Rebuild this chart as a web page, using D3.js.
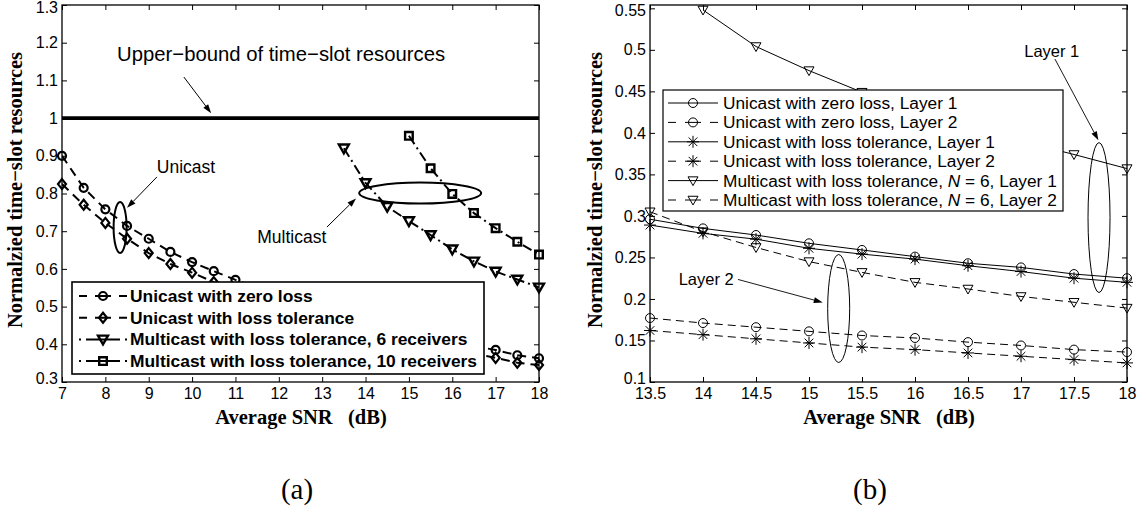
<!DOCTYPE html>
<html><head><meta charset="utf-8">
<script src="https://cdn.jsdelivr.net/npm/d3@7"></script>
<style>body{margin:0;background:#fff}svg{display:block}</style>
</head><body>
<svg id="c" width="1143" height="512"></svg>
<script>
// ---------- Data: panel (a) ----------
const snrA = [7,7.5,8,8.5,9,9.5,10,10.5,11,11.5,12,12.5,13,13.5,14,14.5,15,15.5,16,16.5,17,17.5,18];
const uniZeroA = [0.900,0.815,0.758,0.714,0.680,0.645,0.618,0.594,0.571,0.550,0.530,0.511,0.493,0.476,0.460,0.445,0.431,0.418,0.406,0.395,0.385,0.371,0.363];
const uniTolA  = [0.825,0.770,0.722,0.680,0.642,0.613,0.590,0.565,0.545,0.525,0.506,0.488,0.471,0.455,0.440,0.426,0.413,0.400,0.388,0.376,0.364,0.351,0.345];
const snrMulti6 = [13.5,14,14.5,15,15.5,16,16.5,17,17.5,18];
const multi6A = [0.920,0.828,0.765,0.727,0.690,0.652,0.620,0.593,0.572,0.551];
const snrMulti10 = [15,15.5,16,16.5,17,17.5,18];
const multi10A = [0.953,0.867,0.799,0.748,0.708,0.672,0.638];
const upperBound = 1;
const xTicksA = [7,8,9,10,11,12,13,14,15,16,17,18];
const xLabelsA = ["7","8","9","10","11","12","13","14","15","16","17","18"];
const yTicksA = [0.3,0.4,0.5,0.6,0.7,0.8,0.9,1.0,1.1,1.2,1.3];
const yLabelsA = ["0.3","0.4","0.5","0.6","0.7","0.8","0.9","1","1.1","1.2","1.3"];
const legendA = ["Unicast with zero loss","Unicast with loss tolerance","Multicast with loss tolerance, 6 receivers","Multicast with loss tolerance, 10 receivers"];

// ---------- Data: panel (b) ----------
const snrB = [13.5,14,14.5,15,15.5,16,16.5,17,17.5,18];
const uniZeroL1 = [0.296,0.285,0.277,0.267,0.259,0.251,0.243,0.238,0.230,0.225];
const uniZeroL2 = [0.177,0.171,0.166,0.161,0.156,0.153,0.148,0.144,0.139,0.136];
const uniTolL1  = [0.289,0.279,0.272,0.261,0.254,0.248,0.240,0.233,0.225,0.220];
const uniTolL2  = [0.162,0.157,0.152,0.147,0.142,0.139,0.135,0.131,0.127,0.123];
const multiL1   = [null,0.548,0.504,0.475,0.449,0.428,0.408,0.390,0.374,0.357];
const multiL2   = [0.305,0.281,0.262,0.245,0.232,0.220,0.212,0.203,0.196,0.189];
const xTicksB = [13.5,14,14.5,15,15.5,16,16.5,17,17.5,18];
const xLabelsB = ["13.5","14","14.5","15","15.5","16","16.5","17","17.5","18"];
const yTicksB = [0.1,0.15,0.2,0.25,0.3,0.35,0.4,0.45,0.5,0.55];
const yLabelsB = ["0.1","0.15","0.2","0.25","0.3","0.35","0.4","0.45","0.5","0.55"];
const legendB = ["Unicast with zero loss, Layer 1","Unicast with zero loss, Layer 2","Unicast with loss tolerance, Layer 1","Unicast with loss tolerance, Layer 2","Multicast with loss tolerance, |N| = 6, Layer 1","Multicast with loss tolerance, |N| = 6, Layer 2"];

const yLabelText = "Normalzied time−slot resources";
const xLabelText = "Average SNR   (dB)";

// ---------- Setup ----------
const svg = d3.select("#c");
const SANS = "'Liberation Sans', Arial, sans-serif";
const SERIF = "'Liberation Serif', 'Times New Roman', serif";

const xA = d3.scaleLinear().domain([7,18]).range([62,539]);
const yA = d3.scaleLinear().domain([0.3,1.3]).range([382,5]);
const xB = d3.scaleLinear().domain([13.5,18]).range([650,1127]);
const yB = d3.scaleLinear().domain([0.1,0.554]).range([382,5]);

function markerPath(type, s){
  switch(type){
    case "circle": return `M${-s},0a${s},${s} 0 1,0 ${2*s},0a${s},${s} 0 1,0 ${-2*s},0Z`;
    case "diamond": return `M0,${-s*1.25}L${s},0L0,${s*1.25}L${-s},0Z`;
    case "tri": return `M${-s},${-s*0.75}L${s},${-s*0.75}L0,${s}Z`;
    case "square": return `M${-s},${-s}H${s}V${s}H${-s}Z`;
    case "star": { const d=s*0.72; return `M${-s},0H${s}M0,${-s}V${s}M${-d},${-d}L${d},${d}M${-d},${d}L${d},${-d}`; }
  }
}

function drawAxes(g, x, y, xt, xl, yt, yl){
  const [y0,y1] = y.range(), [x0,x1] = x.range();
  const ax = [
    g.append("g").attr("transform",`translate(0,${y0})`).call(d3.axisBottom(x).tickValues(xt).tickFormat((d,i)=>xl[i]).tickSize(-5).tickPadding(6)),
    g.append("g").attr("transform",`translate(0,${y1})`).call(d3.axisTop(x).tickValues(xt).tickFormat("").tickSize(-5)),
    g.append("g").attr("transform",`translate(${x0},0)`).call(d3.axisLeft(y).tickValues(yt).tickFormat((d,i)=>yl[i]).tickSize(-5).tickPadding(4)),
    g.append("g").attr("transform",`translate(${x1},0)`).call(d3.axisRight(y).tickValues(yt).tickFormat("").tickSize(-5))
  ];
  ax.forEach(a=>{ a.select(".domain").remove(); a.attr("font-family",SANS).attr("font-size",16); a.selectAll("line").attr("stroke","#000").attr("stroke-width",1); a.selectAll("text").attr("fill","#000"); });
  // MATLAB-style: lowest y label sits slightly raised, clear of the first x label
  ax[2].selectAll(".tick").filter((d,i)=>i===0).select("text").attr("dy","0.1em");
  ax[2].selectAll(".tick").filter((d,i)=>i===yt.length-1).select("text").attr("dy","0.45em");
  g.append("rect").attr("x",x0).attr("y",y1).attr("width",x1-x0).attr("height",y0-y1).attr("fill","none").attr("stroke","#000").attr("stroke-width",1.3);
}

function drawSeries(g, x, y, xs, vals, st, clipId){
  const pts = xs.map((d,i)=>[d, vals[i]]).filter(p=>p[1]!=null);
  const line = d3.line().x(p=>x(p[0])).y(p=>y(p[1]));
  const lg = g.append("g").attr("clip-path",`url(#${clipId})`);
  lg.append("path").attr("d",line(pts)).attr("fill","none").attr("stroke","#000").attr("stroke-width",st.lw).attr("stroke-dasharray",st.dash||null);
  g.append("g").selectAll("path").data(pts).join("path")
    .attr("transform",p=>`translate(${x(p[0])},${y(p[1])})`)
    .attr("d",markerPath(st.marker, st.ms)).attr("fill","none").attr("stroke","#000").attr("stroke-width",st.mlw);
}

function drawArrow(g, p1, p2, lw, hl, hw){
  const dx=p2[0]-p1[0], dy=p2[1]-p1[1], L=Math.hypot(dx,dy), ux=dx/L, uy=dy/L;
  const bx=p2[0]-ux*hl, by=p2[1]-uy*hl;
  g.append("line").attr("x1",p1[0]).attr("y1",p1[1]).attr("x2",bx).attr("y2",by).attr("stroke","#000").attr("stroke-width",lw);
  g.append("path").attr("d",`M${p2[0]},${p2[1]}L${bx-uy*hw},${by+ux*hw}L${bx+uy*hw},${by-ux*hw}Z`).attr("fill","#000");
}

function axisLabels(g, x, cx){
  g.append("text").attr("x",cx).attr("y",424).attr("text-anchor","middle").attr("font-family",SERIF).attr("font-weight","bold").attr("font-size",20.5).style("white-space","pre").text(xLabelText);
}

const defs = svg.append("defs");
defs.append("clipPath").attr("id","clipA").append("rect").attr("x",62).attr("y",5).attr("width",477).attr("height",377);
defs.append("clipPath").attr("id","clipB").append("rect").attr("x",650).attr("y",5).attr("width",477).attr("height",377);

// ---------- Panel (a) ----------
const gA = svg.append("g");
const stA = [
  {marker:"circle", ms:4, lw:2, mlw:2.2, dash:"9,6"},
  {marker:"diamond", ms:4, lw:2, mlw:2.2, dash:"9,6"},
  {marker:"tri", ms:5, lw:2, mlw:2.4, dash:"10,4,2,4"},
  {marker:"square", ms:3.8, lw:2, mlw:2.4, dash:"10,4,2,4"}
];
gA.append("line").attr("x1",xA(7)).attr("x2",xA(18)).attr("y1",yA(upperBound)).attr("y2",yA(upperBound)).attr("stroke","#000").attr("stroke-width",3.8);
drawSeries(gA, xA, yA, snrA, uniZeroA, stA[0], "clipA");
drawSeries(gA, xA, yA, snrA, uniTolA, stA[1], "clipA");
drawSeries(gA, xA, yA, snrMulti6, multi6A, stA[2], "clipA");
drawSeries(gA, xA, yA, snrMulti10, multi10A, stA[3], "clipA");
drawAxes(gA, xA, yA, xTicksA, xLabelsA, yTicksA, yLabelsA);

// legend (a)
const lgA = gA.append("g");
lgA.append("rect").attr("x",72).attr("y",282).attr("width",412).attr("height",92).attr("fill","#fff").attr("stroke","#000").attr("stroke-width",1.6);
const legDashA = ["8,8,16,8,8","8,8,16,8,8","2,5,34,5,2","2,5,34,5,2"];
legendA.forEach((t,i)=>{
  const yy = 296 + i*21.7;
  lgA.append("line").attr("x1",79).attr("x2",127).attr("y1",yy).attr("y2",yy).attr("stroke","#000").attr("stroke-width",2).attr("stroke-dasharray",legDashA[i]);
  lgA.append("path").attr("transform",`translate(103,${yy})`).attr("d",markerPath(stA[i].marker,stA[i].ms)).attr("fill","none").attr("stroke","#000").attr("stroke-width",stA[i].mlw);
  lgA.append("text").attr("x",130).attr("y",yy+6).attr("font-family",SANS).attr("font-weight","bold").attr("font-size",17.4).text(t);
});

// annotations (a)
gA.append("text").attr("x",xA(8.27)).attr("y",yA(1.17)+7).attr("font-family",SANS).attr("font-size",20.3).text("Upper−bound of time−slot resources");
drawArrow(gA, [xA(9.81),yA(1.109)], [xA(10.44),yA(1.013)], 1, 9, 3);
gA.append("text").attr("x",xA(9.86)).attr("y",yA(0.870)+6).attr("text-anchor","middle").attr("font-family",SANS).attr("font-size",17.5).text("Unicast");
drawArrow(gA, [xA(9.19),yA(0.844)], [xA(8.50),yA(0.762)], 1, 9, 3);
gA.append("ellipse").attr("cx",xA(8.34)).attr("cy",yA(0.710)).attr("rx",6.5).attr("ry",25.5).attr("fill","none").attr("stroke","#000").attr("stroke-width",2);
gA.append("text").attr("x",xA(12.3)).attr("y",yA(0.685)+6).attr("text-anchor","middle").attr("font-family",SANS).attr("font-size",17.5).text("Multicast");
drawArrow(gA, [xA(13.11),yA(0.711)], [xA(13.78),yA(0.787)], 1, 9, 3);
gA.append("ellipse").attr("cx",xA(15.26)).attr("cy",yA(0.801)).attr("rx",61).attr("ry",10.5).attr("fill","none").attr("stroke","#000").attr("stroke-width",2);

// labels (a)
gA.append("text").attr("transform","translate(22,190) rotate(-90)").attr("text-anchor","middle").attr("font-family",SERIF).attr("font-weight","bold").attr("font-size",20.5).text(yLabelText);
axisLabels(gA, xA, 301);
gA.append("text").attr("x",297).attr("y",499).attr("text-anchor","middle").attr("font-family",SERIF).attr("font-size",29).text("(a)");

// ---------- Panel (b) ----------
const gB = svg.append("g");
const solid = null, dashed = "8,5";
const stB = [
  {marker:"circle", ms:4.5, lw:1, mlw:1, dash:solid, vals:uniZeroL1},
  {marker:"circle", ms:4.5, lw:1, mlw:1, dash:dashed, vals:uniZeroL2},
  {marker:"star", ms:6, lw:1, mlw:1, dash:solid, vals:uniTolL1},
  {marker:"star", ms:6, lw:1, mlw:1, dash:dashed, vals:uniTolL2},
  {marker:"tri", ms:5, lw:1, mlw:1, dash:solid, vals:multiL1},
  {marker:"tri", ms:5, lw:1, mlw:1, dash:dashed, vals:multiL2}
];
stB.forEach(s=>drawSeries(gB, xB, yB, snrB, s.vals, s, "clipB"));
drawAxes(gB, xB, yB, xTicksB, xLabelsB, yTicksB, yLabelsB);

// legend (b)
const lgB = gB.append("g");
lgB.append("rect").attr("x",663).attr("y",90).attr("width",400).attr("height",121).attr("fill","#fff").attr("stroke","#000").attr("stroke-width",1.2);
legendB.forEach((t,i)=>{
  const yy = 103 + i*19.4;
  lgB.append("line").attr("x1",668).attr("x2",718).attr("y1",yy).attr("y2",yy).attr("stroke","#000").attr("stroke-width",1).attr("stroke-dasharray",stB[i].dash? "8,9,16,9,8" : null);
  lgB.append("path").attr("transform",`translate(693,${yy})`).attr("d",markerPath(stB[i].marker,stB[i].ms)).attr("fill","none").attr("stroke","#000").attr("stroke-width",1);
  const tx = lgB.append("text").attr("x",723).attr("y",yy+6).attr("font-family",SANS).attr("font-size",17.3);
  t.split("|").forEach((part,k)=>{ tx.append("tspan").attr("font-style",k===1?"italic":null).text(part); });
});

// annotations (b)
gB.append("text").attr("x",xB(17.29)).attr("y",yB(0.499)+6).attr("text-anchor","middle").attr("font-family",SANS).attr("font-size",16.5).text("Layer 1");
drawArrow(gB, [xB(17.32),yB(0.489)], [xB(17.73),yB(0.391)], 0.9, 9, 3);
gB.append("ellipse").attr("cx",xB(17.736)).attr("cy",yB(0.298)).attr("rx",11).attr("ry",75).attr("fill","none").attr("stroke","#000").attr("stroke-width",1);
gB.append("text").attr("x",xB(14.03)).attr("y",yB(0.2235)+6).attr("text-anchor","middle").attr("font-family",SANS).attr("font-size",16.5).text("Layer 2");
drawArrow(gB, [xB(14.33),yB(0.2235)], [xB(15.13),yB(0.1958)], 0.9, 9, 3);
gB.append("ellipse").attr("cx",xB(15.28)).attr("cy",yB(0.1885)).attr("rx",11).attr("ry",54).attr("fill","none").attr("stroke","#000").attr("stroke-width",1);

// labels (b)
gB.append("text").attr("transform","translate(602,190) rotate(-90)").attr("text-anchor","middle").attr("font-family",SERIF).attr("font-weight","bold").attr("font-size",20.5).text(yLabelText);
axisLabels(gB, xB, 889);
gB.append("text").attr("x",870).attr("y",499).attr("text-anchor","middle").attr("font-family",SERIF).attr("font-size",29).text("(b)");
</script>
</body></html>
